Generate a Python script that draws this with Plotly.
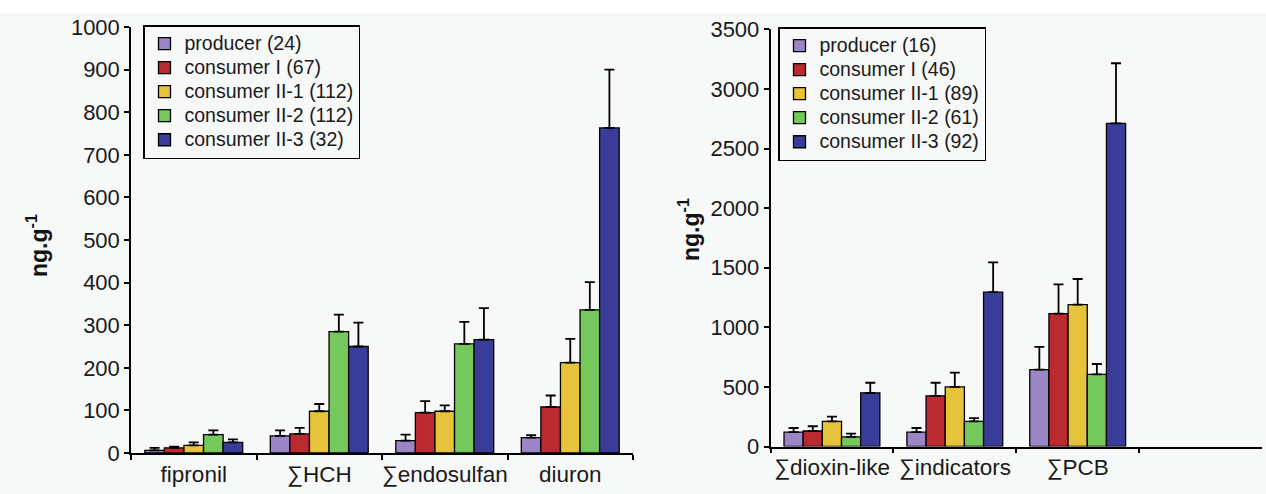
import plotly.graph_objects as go

# ---------------- data ----------------
groups_left = ["producer (24)", "consumer I (67)", "consumer II-1 (112)",
               "consumer II-2 (112)", "consumer II-3 (32)"]
groups_right = ["producer (16)", "consumer I (46)", "consumer II-1 (89)",
                "consumer II-2 (61)", "consumer II-3 (92)"]

cats_left = ["fipronil", "∑HCH", "∑endosulfan", "diuron"]
cats_right = ["∑dioxin-like", "∑indicators", "∑PCB"]

# means (ng.g-1) per group, one value per category
left_producer = [6, 40, 29, 36]
left_consumer1 = [12, 45, 95, 108]
left_consumer2_1 = [18, 98, 98, 212]
left_consumer2_2 = [43, 285, 256, 336]
left_consumer2_3 = [25, 250, 266, 763]

left_err_producer = [6, 13, 14, 6]
left_err_consumer1 = [3, 14, 27, 27]
left_err_consumer2_1 = [7, 17, 14, 56]
left_err_consumer2_2 = [10, 40, 52, 65]
left_err_consumer2_3 = [7, 56, 74, 137]

right_producer = [120, 120, 645]
right_consumer1 = [130, 425, 1115]
right_consumer2_1 = [210, 500, 1190]
right_consumer2_2 = [80, 210, 605]
right_consumer2_3 = [450, 1295, 2710]

right_err_producer = [35, 35, 190]
right_err_consumer1 = [40, 110, 245]
right_err_consumer2_1 = [40, 120, 215]
right_err_consumer2_2 = [28, 28, 87]
right_err_consumer2_3 = [85, 250, 505]

left_ticks = [0, 100, 200, 300, 400, 500, 600, 700, 800, 900, 1000]
right_ticks = [0, 500, 1000, 1500, 2000, 2500, 3000, 3500]

# ---------------- style ----------------
colors = ["#9a86c7", "#bb2a30", "#e7c23b", "#74c85c", "#393d99"]
FONT = "Liberation Sans, Arial, sans-serif"
BG = "#f7f8f8"
W, H = 1266, 494
LEG_TEXT_PX = 19.5

left_vals = [left_producer, left_consumer1, left_consumer2_1, left_consumer2_2, left_consumer2_3]
left_errs = [left_err_producer, left_err_consumer1, left_err_consumer2_1,
             left_err_consumer2_2, left_err_consumer2_3]
right_vals = [right_producer, right_consumer1, right_consumer2_1, right_consumer2_2, right_consumer2_3]
right_errs = [right_err_producer, right_err_consumer1, right_err_consumer2_1,
              right_err_consumer2_2, right_err_consumer2_3]


def leg_name(s):
    return '<span style="font-size:%spx">%s</span>' % (LEG_TEXT_PX, s)


fig = go.Figure()

for i in range(5):
    fig.add_trace(go.Bar(
        x=cats_left, y=left_vals[i], name=leg_name(groups_left[i]),
        marker=dict(color=colors[i], line=dict(color="black", width=1.3)),
        error_y=dict(type="data", symmetric=False, array=left_errs[i],
                     arrayminus=[0] * len(cats_left), color="black",
                     thickness=1.8, width=5),
        xaxis="x", yaxis="y", legend="legend",
    ))

for i in range(5):
    fig.add_trace(go.Bar(
        x=cats_right, y=right_vals[i], name=leg_name(groups_right[i]),
        marker=dict(color=colors[i], line=dict(color="black", width=1.3)),
        error_y=dict(type="data", symmetric=False, array=right_errs[i],
                     arrayminus=[0] * len(cats_right), color="black",
                     thickness=1.8, width=5),
        xaxis="x2", yaxis="y2", legend="legend2",
    ))


def px_x(p):
    return p / W


def px_y(p):
    return 1 - p / H


xcommon = dict(type="category", showline=True, linecolor="black", linewidth=1.5,
               ticks="outside", tickson="boundaries", ticklen=5, tickcolor="black",
               tickwidth=1.5, showgrid=False, zeroline=False, tickangle=0,
               automargin=False,
               tickfont=dict(family=FONT, size=22.5, color="#1a1a1a"))
ycommon = dict(showline=True, linecolor="black", linewidth=1.5, ticks="outside",
               ticklen=5, tickcolor="black", tickwidth=1.5, showgrid=False,
               zeroline=False, automargin=False,
               tickfont=dict(family=FONT, size=22, color="#1a1a1a"))

legend_common = dict(bgcolor="rgba(0,0,0,0)", bordercolor="black", borderwidth=1.5,
                     font=dict(family=FONT, size=16.2, color="#1a1a1a"),
                     xanchor="left", yanchor="top", tracegroupgap=0,
                     traceorder="normal", itemclick=False)

fig.update_layout(
    width=W, height=H,
    margin=dict(l=0, r=0, t=0, b=0, autoexpand=False),
    paper_bgcolor=BG, plot_bgcolor=BG,
    barmode="group", bargap=0.22, bargroupgap=0,
    showlegend=True,
    xaxis=dict(xcommon, domain=[px_x(131), px_x(633)], anchor="y",
               categoryorder="array", categoryarray=cats_left,
               range=[-0.5, len(cats_left) - 0.5]),
    yaxis=dict(ycommon, domain=[px_y(453), px_y(27)], anchor="x",
               range=[0, 1000], tickvals=left_ticks),
    xaxis2=dict(xcommon, domain=[px_x(770.5), px_x(1262)], anchor="y2",
                categoryorder="array", categoryarray=cats_right,
                range=[-0.5, len(cats_right) + 0.5]),
    yaxis2=dict(ycommon, domain=[px_y(446.5), px_y(29.3)], anchor="x2",
                range=[0, 3500], tickvals=right_ticks),
    legend=dict(legend_common, x=px_x(143), y=px_y(25)),
    legend2=dict(legend_common, x=px_x(778), y=px_y(27)),
    shapes=[dict(type="rect", xref="paper", yref="paper", x0=0, x1=1,
                 y0=px_y(13), y1=1, fillcolor="white", line=dict(width=0),
                 layer="below")],
    annotations=[
        dict(text="<b>ng.g<sup>-1</sup></b>", textangle=-90, showarrow=False,
             xref="paper", yref="paper", x=px_x(37), y=px_y(246),
             xanchor="center", yanchor="middle",
             font=dict(family=FONT, size=23, color="#111")),
        dict(text="<b>ng.g<sup>-1</sup></b>", textangle=-90, showarrow=False,
             xref="paper", yref="paper", x=px_x(689), y=px_y(230),
             xanchor="center", yanchor="middle",
             font=dict(family=FONT, size=23, color="#111")),
    ],
)

fig.write_html("out.html")
